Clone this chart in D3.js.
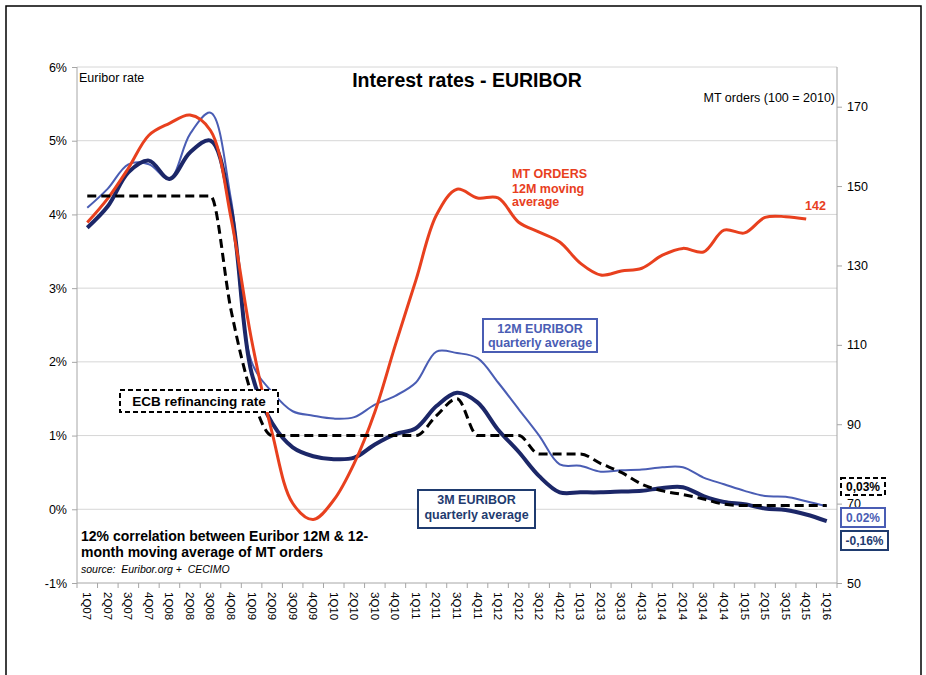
<!DOCTYPE html>
<html>
<head>
<meta charset="utf-8">
<script src="https://cdn.jsdelivr.net/npm/d3@7"></script>
<style>
  body { margin: 0; background: #fff; }
  svg { display: block; font-family: "Liberation Sans", Arial, sans-serif; }
  svg text { white-space: pre; }
  .axis path, .axis line { stroke: #a6a6a6; }
  .axis text { fill: #000; }
</style>
</head>
<body>
<div id="chart"></div>
<script>
// quarters on the x axis
var quarters = ["1Q07","2Q07","3Q07","4Q07","1Q08","2Q08","3Q08","4Q08",
  "1Q09","2Q09","3Q09","4Q09","1Q10","2Q10","3Q10","4Q10",
  "1Q11","2Q11","3Q11","4Q11","1Q12","2Q12","3Q12","4Q12",
  "1Q13","2Q13","3Q13","4Q13","1Q14","2Q14","3Q14","4Q14",
  "1Q15","2Q15","3Q15","4Q15","1Q16"];

// ECB refinancing rate (%)
var ecbRate = [4.25,4.25,4.25,4.25,4.25,4.25,4.25,2.7,1.56,1.0,
  1.0,1.0,1.0,1.0,1.0,1.0,1.0,1.27,1.5,1.0,
  1.0,1.0,0.75,0.75,0.75,0.62,0.5,0.34,0.25,0.2,
  0.14,0.07,0.05,0.05,0.05,0.05,0.05];

// 12M euribor, quarterly average (%)
var euribor12m = [4.09,4.35,4.68,4.68,4.48,5.09,5.38,4.2,2.0,1.59,
  1.33,1.27,1.23,1.25,1.42,1.54,1.72,2.14,2.12,2.05,
  1.72,1.36,1.0,0.61,0.59,0.51,0.53,0.54,0.57,0.57,
  0.43,0.34,0.25,0.18,0.17,0.11,0.04];

// 3M euribor, quarterly average (%)
var euribor3m = [3.82,4.11,4.57,4.73,4.48,4.84,5.0,4.07,1.85,1.17,
  0.84,0.72,0.68,0.70,0.88,1.02,1.1,1.40,1.58,1.45,
  1.08,0.78,0.45,0.23,0.23,0.23,0.24,0.25,0.29,0.30,
  0.18,0.10,0.07,0.01,-0.01,-0.07,-0.16];

// MT orders 12M moving average (100 = 2010), ends 4Q15
var mtOrders = [140.8,146.9,154.5,162.8,165.8,167.9,164,141.9,111.2,87.8,
  70.1,66.0,70.9,80.2,93.1,110,126.3,142.7,149.2,147,
  147,140.9,138.4,135.9,130.6,127.6,128.6,129.3,132.6,134.3,
  133.4,138.9,138.2,142.1,142.3,141.7];

var leftTicks = [-1,0,1,2,3,4,5,6];
var rightTicks = [50,70,90,110,130,150,170];

var W = 926, H = 675;
var pLeft = 77, pRight = 837, pTop = 67, pBottom = 583;
var red = "#e8401e", navy = "#1c2768", blue = "#4a5db4", boxNavy = "#1f3b6f";

var svg = d3.select("#chart").append("svg")
  .attr("width", W).attr("height", H);

// outer frame
svg.append("path")
  .attr("d", "M6," + H + "V6H921V" + H)
  .attr("fill", "none").attr("stroke", "#000").attr("stroke-width", 1.5);

//scales
var x = d3.scaleBand().domain(quarters).range([pLeft, pRight]).padding(0);
var yL = d3.scaleLinear().domain([-1, 6]).range([pBottom, pTop]);
var yR = d3.scaleLinear().domain([50, 180]).range([pBottom, pTop]);
var cx = function (i) { return x(quarters[i]) + x.bandwidth() / 2; };

// gridlines
svg.append("g").selectAll("line")
  .data(leftTicks.filter(function (d) { return d > -1; }))
  .enter().append("line")
  .attr("x1", pLeft).attr("x2", pRight)
  .attr("y1", function (d) { return yL(d); })
  .attr("y2", function (d) { return yL(d); })
  .attr("stroke", "#d6d6d6").attr("stroke-width", 1);

// left axis
var gl = svg.append("g").attr("class", "axis")
  .attr("transform", "translate(" + pLeft + ",0)")
  .call(d3.axisLeft(yL).tickValues(leftTicks).tickSize(5).tickPadding(5)
    .tickFormat(function (d) { return d + "%"; }));
gl.select(".domain").attr("d", "M0," + pTop + "V" + pBottom);
gl.selectAll("text").style("font-size", "12.5px");

// right axis
var gr = svg.append("g").attr("class", "axis")
  .attr("transform", "translate(" + pRight + ",0)")
  .call(d3.axisRight(yR).tickValues(rightTicks).tickSize(5).tickPadding(5));
gr.select(".domain").attr("d", "M0," + pTop + "V" + pBottom);
gr.selectAll("text").style("font-size", "12.5px");

// x axis, ticks between categories like excel
var gx = svg.append("g").attr("class", "axis")
  .attr("transform", "translate(0," + pBottom + ")")
  .call(d3.axisBottom(x).tickSize(0).tickPadding(0));
gx.select(".domain").attr("d", "M" + pLeft + ",0H" + pRight);
gx.selectAll("text")
  .attr("y", 0).attr("x", 9).attr("dy", "0.35em")
  .attr("transform", "rotate(90)")
  .style("text-anchor", "start")
  .style("font-size", "11.5px");
gx.selectAll(".sep")
  .data(quarters.map(function (q) { return x(q); }).concat([pRight]))
  .enter().append("line").attr("class", "sep")
  .attr("x1", function (d) { return d; }).attr("x2", function (d) { return d; })
  .attr("y1", 0).attr("y2", 5);

// lines
var lineL = d3.line()
  .x(function (d, i) { return cx(i); })
  .y(function (d) { return yL(d); })
  .curve(d3.curveCatmullRom.alpha(0.5));
var lineR = d3.line()
  .x(function (d, i) { return cx(i); })
  .y(function (d) { return yR(d); })
  .curve(d3.curveCatmullRom.alpha(0.5));
var lineStep = d3.line()
  .x(function (d, i) { return cx(i); })
  .y(function (d) { return yL(d); })
  .curve(d3.curveMonotoneX);

svg.append("path").datum(euribor12m)
  .attr("d", lineL).attr("fill", "none")
  .attr("stroke", blue).attr("stroke-width", 2);
svg.append("path").datum(euribor3m)
  .attr("d", lineL).attr("fill", "none")
  .attr("stroke", navy).attr("stroke-width", 4);
svg.append("path").datum(mtOrders)
  .attr("d", lineR).attr("fill", "none")
  .attr("stroke", red).attr("stroke-width", 3);
svg.append("path").datum(ecbRate)
  .attr("d", lineStep).attr("fill", "none")
  .attr("stroke", "#000").attr("stroke-width", 3)
  .attr("stroke-dasharray", "9,5");

// texts
function txt(s, xx, yy, size, opts) {
  opts = opts || {};
  return svg.append("text").text(s)
    .attr("x", xx).attr("y", yy)
    .style("font-size", size + "px")
    .style("font-weight", opts.bold ? "bold" : "normal")
    .style("font-style", opts.italic ? "italic" : "normal")
    .attr("text-anchor", opts.anchor || "start")
    .attr("fill", opts.color || "#000");
}

txt("Interest rates - EURIBOR", 467, 87, 19.5, { bold: true, anchor: "middle" });
txt("Euribor rate", 79, 82, 12.5);
txt("MT orders (100 = 2010)", 835, 102, 12.5, { anchor: "end" });

txt("MT ORDERS", 512, 178, 12.5, { bold: true, color: red });
txt("12M moving", 512, 192.5, 12.5, { bold: true, color: red });
txt("average", 512, 206, 12.5, { bold: true, color: red });
txt(mtOrders[mtOrders.length - 1].toFixed(0), 805, 210, 12.5, { bold: true, color: red });

function box(x0, y0, w, h, color, dashed) {
  var r = svg.append("rect")
    .attr("x", x0).attr("y", y0).attr("width", w).attr("height", h)
    .attr("fill", "#fff").attr("stroke", color).attr("stroke-width", 2);
  if (dashed) r.attr("stroke-dasharray", "5,3");
}

box(483, 319, 114, 33, blue);
txt("12M EURIBOR", 540, 333, 12.5, { bold: true, anchor: "middle", color: blue });
txt("quarterly average", 540, 347, 12.5, { bold: true, anchor: "middle", color: blue });

box(418, 490, 117, 38, boxNavy);
txt("3M EURIBOR", 476.5, 504, 12.5, { bold: true, anchor: "middle", color: boxNavy });
txt("quarterly average", 476.5, 519, 12.5, { bold: true, anchor: "middle", color: boxNavy });

box(120, 390, 158, 22, "#000", true);
txt("ECB refinancing rate", 199, 406, 13.5, { bold: true, anchor: "middle" });

box(841, 478, 44, 17, "#000", true);
txt("0,03%", 863, 491, 12, { bold: true, anchor: "middle" });
box(841, 508, 44, 19, blue);
txt("0.02%", 863, 522, 12, { bold: true, anchor: "middle", color: blue });
box(841, 531, 47, 19, boxNavy);
txt("-0,16%", 864.5, 545, 12, { bold: true, anchor: "middle", color: boxNavy });

txt("12% correlation between Euribor 12M & 12-", 81, 541, 14, { bold: true });
txt("month moving average of MT orders", 81, 557, 14, { bold: true });
txt("source:  Euribor.org +  CECIMO", 81, 573, 10.5, { italic: true });
</script>
</body>
</html>
